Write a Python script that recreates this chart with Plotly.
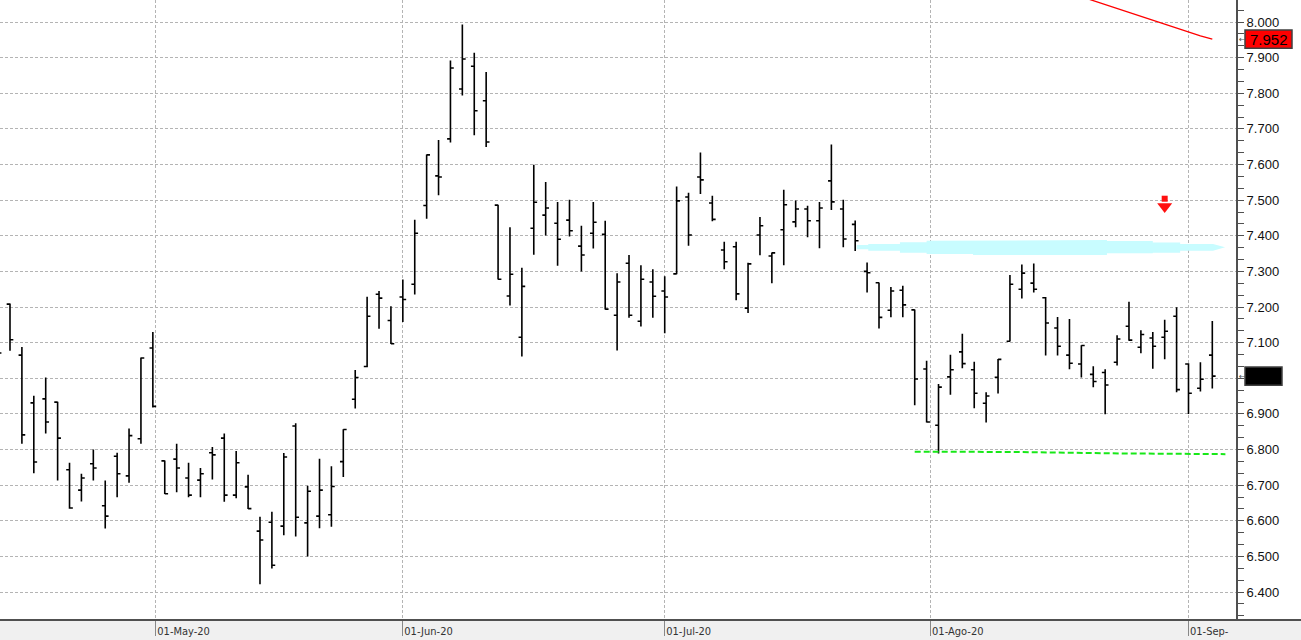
import numpy as np
import pandas as pd
import plotly.graph_objects as go

# ---------------- data ----------------
dates = pd.bdate_range("2020-04-13", "2020-09-03")
dates = dates[dates != pd.Timestamp("2020-05-01")]

opens = [7.100,
         7.208, 7.065, 6.931, 6.942, 6.933, 6.743, 6.686, 6.760, 6.642, 6.781,
         6.726, 6.830, 7.085, 6.768, 6.773, 6.720, 6.714, 6.791, 6.832, 6.672,
         6.695, 6.571, 6.596, 6.585, 6.866, 6.594, 6.613, 6.617, 6.766, 6.941,
         7.033, 7.236, 7.162, 7.228, 7.264, 7.485, 7.568, 7.672, 7.812, 7.876,
         7.779, 7.486, 7.231, 7.115, 7.421, 7.458, 7.435, 7.444, 7.371, 7.407,
         7.404, 7.177, 7.323, 7.160, 7.270, 7.245, 7.293, 7.509, 7.565, 7.492,
         7.360, 7.369, 7.197, 7.402, 7.343, 7.417, 7.439, 7.475, 7.442, 7.554,
         7.475, 7.432, 7.300, 7.268, 7.191, 7.247, 7.192, 7.026, 6.868, 7.004,
         7.074, 7.024, 6.930, 7.003, 7.104, 7.250, 7.267, 7.226, 7.141, 7.065,
         7.040, 7.011, 7.016, 7.045, 7.146, 7.087, 7.113, 7.115, 7.174, 7.040,
         6.972, 7.065]
highs = [7.120,
         7.210, 7.088, 6.951, 7.002, 6.934, 6.763, 6.732, 6.800, 6.713, 6.791,
         6.859, 7.058, 7.130, 6.769, 6.816, 6.763, 6.748, 6.807, 6.845, 6.796,
         6.729, 6.611, 6.625, 6.790, 6.874, 6.698, 6.774, 6.753, 6.857, 7.023,
         7.229, 7.245, 7.202, 7.277, 7.445, 7.628, 7.669, 7.892, 7.993, 7.914,
         7.860, 7.487, 7.424, 7.310, 7.599, 7.551, 7.495, 7.501, 7.428, 7.495,
         7.442, 7.295, 7.346, 7.317, 7.306, 7.286, 7.538, 7.521, 7.634, 7.512,
         7.383, 7.383, 7.324, 7.453, 7.353, 7.529, 7.499, 7.484, 7.495, 7.656,
         7.501, 7.443, 7.325, 7.269, 7.256, 7.260, 7.193, 7.049, 6.984, 7.066,
         7.125, 7.046, 6.961, 7.054, 7.290, 7.319, 7.322, 7.228, 7.172, 7.166,
         7.093, 7.034, 7.025, 7.121, 7.215, 7.135, 7.130, 7.164, 7.199, 7.042,
         7.045, 7.161]
lows = [7.050,
        7.077, 6.816, 6.733, 6.845, 6.713, 6.634, 6.654, 6.713, 6.578, 6.666,
        6.707, 6.816, 6.918, 6.675, 6.680, 6.666, 6.666, 6.716, 6.653, 6.663,
        6.633, 6.422, 6.466, 6.559, 6.556, 6.500, 6.579, 6.583, 6.723, 6.915,
        7.031, 7.139, 7.096, 7.158, 7.235, 7.448, 7.514, 7.662, 7.794, 7.682,
        7.649, 7.277, 7.204, 7.061, 7.347, 7.401, 7.316, 7.398, 7.300, 7.364,
        7.193, 7.078, 7.170, 7.145, 7.170, 7.126, 7.292, 7.372, 7.517, 7.441,
        7.306, 7.219, 7.183, 7.345, 7.267, 7.317, 7.424, 7.396, 7.365, 7.472,
        7.368, 7.357, 7.241, 7.140, 7.171, 7.171, 6.924, 6.876, 6.789, 6.954,
        7.028, 6.916, 6.876, 6.957, 7.103, 7.224, 7.241, 7.064, 7.064, 7.025,
        7.002, 6.975, 6.899, 7.036, 7.105, 7.070, 7.027, 7.053, 6.961, 6.900,
        6.963, 6.971]
closes = [7.071,
          7.108, 6.841, 6.765, 6.877, 6.832, 6.636, 6.720, 6.748, 6.613, 6.732,
          6.839, 7.057, 6.921, 6.676, 6.748, 6.672, 6.732, 6.785, 6.672, 6.763,
          6.634, 6.546, 6.475, 6.779, 6.610, 6.683, 6.686, 6.696, 6.856, 7.002,
          7.174, 7.225, 7.097, 7.221, 7.407, 7.627, 7.565, 7.871, 7.896, 7.751,
          7.663, 7.278, 7.292, 7.258, 7.494, 7.478, 7.390, 7.414, 7.346, 7.438,
          7.194, 7.270, 7.177, 7.278, 7.230, 7.228, 7.498, 7.402, 7.557, 7.446,
          7.327, 7.237, 7.321, 7.428, 7.352, 7.487, 7.475, 7.442, 7.478, 7.495,
          7.391, 7.386, 7.296, 7.171, 7.245, 7.206, 6.998, 6.877, 6.975, 7.024,
          7.041, 6.958, 6.950, 7.053, 7.264, 7.295, 7.250, 7.155, 7.090, 7.042,
          7.092, 6.991, 6.981, 7.110, 7.107, 7.123, 7.090, 7.132, 6.968, 6.958,
          6.997, 7.006]

# red average line (last 14 bars), ends at 7.952
ma_values = [8.093, 8.082, 8.071, 8.060, 8.049, 8.039, 8.028, 8.017,
             8.006, 7.995, 7.983, 7.971, 7.961, 7.952]
ma_label = "7.952"

# cyan highlight band (step edges in bar units, top/bottom prices)
band_edges = [71.13, 72.1, 74.76, 77.0, 80.9, 92.15, 96.0, 98.3, 101.06]
band_top = [7.374, 7.377, 7.382, 7.386, 7.388, 7.385, 7.381, 7.377]
band_bottom = [7.362, 7.358, 7.352, 7.349, 7.346, 7.351, 7.352, 7.358]
band_tip = (102.07, 7.368)

# green dashed support line
support_x = [76.0, 84.6, 93.4, 102.1]
support_y = [6.794, 6.793, 6.789, 6.787]

# red sell signal arrow
signal_x = [97]
signal_y = [7.49]

month_starts = ["2020-05-01", "2020-06-01", "2020-07-01", "2020-08-01", "2020-09-01"]
month_labels = ["01-May-20", "01-Jun-20", "01-Jul-20", "01-Ago-20", "01-Sep-"]

y_ticks = [6.4, 6.5, 6.6, 6.7, 6.8, 6.9, 7.0, 7.1, 7.2, 7.3, 7.4, 7.5, 7.6, 7.7, 7.8, 7.9, 8.0]

# ---------------- geometry ----------------
W, H = 1301, 640
PLOT_W, PLOT_H = 1236, 620
pos = np.arange(len(dates)) - 1
ma_pos = pos[-len(ma_values):]

ords = np.array([d.toordinal() for d in dates])
tick_pos = np.interp([pd.Timestamp(m).toordinal() for m in month_starts], ords, pos)

x_range = [-0.84, 102.99]
y_range = [6.3214, 8.0618]


def ypaper(v):
    return (v - y_range[0]) / (y_range[1] - y_range[0])


grid_col = "#b4b4b4"
axis_col = "#505050"
last_close = closes[-1]

fig = go.Figure()

# cyan band polygon
bx, by = [], []
for k in range(len(band_top)):
    bx += [band_edges[k], band_edges[k + 1]]
    by += [band_top[k], band_top[k]]
bx.append(band_tip[0]); by.append(band_tip[1])
for k in reversed(range(len(band_bottom))):
    bx += [band_edges[k + 1], band_edges[k]]
    by += [band_bottom[k], band_bottom[k]]
fig.add_trace(go.Scatter(x=bx, y=by, fill="toself", fillcolor="#c8fcff",
                         line=dict(width=0, color="#c8fcff"), mode="lines",
                         hoverinfo="skip", showlegend=False))

fig.add_trace(go.Ohlc(x=pos, open=opens, high=highs, low=lows, close=closes,
                      increasing=dict(line=dict(color="black", width=1.6)),
                      decreasing=dict(line=dict(color="black", width=1.6)),
                      tickwidth=0.28, showlegend=False, hoverinfo="skip"))

fig.add_trace(go.Scatter(x=ma_pos, y=ma_values, mode="lines",
                         line=dict(color="#ff0000", width=1.3),
                         showlegend=False, hoverinfo="skip"))

fig.add_trace(go.Scatter(x=support_x, y=support_y, mode="lines",
                         line=dict(color="#18e818", width=2, dash="6px,3px"),
                         showlegend=False, hoverinfo="skip"))

fig.add_trace(go.Scatter(x=signal_x, y=[v + 0.014 for v in signal_y], mode="markers",
                         marker=dict(symbol="square", size=6, color="#ff1010",
                                     line=dict(width=0)),
                         showlegend=False, hoverinfo="skip"))
fig.add_trace(go.Scatter(x=signal_x, y=[v - 0.008 for v in signal_y], mode="markers",
                         marker=dict(symbol="triangle-down", size=13, color="#ff1010",
                                     line=dict(width=0)),
                         showlegend=False, hoverinfo="skip"))

xr = W / PLOT_W
shapes = [
    dict(type="rect", xref="paper", yref="paper", x0=0, x1=xr,
         y0=-(H - PLOT_H) / PLOT_H, y1=0, fillcolor="#f0f0f0",
         line=dict(width=0), layer="below"),
    dict(type="line", xref="paper", yref="paper", x0=0, x1=xr, y0=0, y1=0,
         line=dict(color=axis_col, width=2)),
]
half = 9.2 / PLOT_H
shapes.append(dict(type="rect", xref="paper", yref="paper",
                   x0=1245 / PLOT_W, x1=1292 / PLOT_W,
                   y0=ypaper(ma_values[-1]) - half, y1=ypaper(ma_values[-1]) + half,
                   fillcolor="#ff0000", line=dict(color="#404040", width=1.5)))
shapes.append(dict(type="rect", xref="paper", yref="paper",
                   x0=1245 / PLOT_W, x1=1282 / PLOT_W,
                   y0=ypaper(last_close) - half, y1=ypaper(last_close) + half,
                   fillcolor="#000000", line=dict(color="#404040", width=1.5)))

annotations = [
    dict(xref="paper", yref="paper", x=1248 / PLOT_W, y=ypaper(ma_values[-1]),
         xanchor="left", yanchor="middle", text=ma_label, showarrow=False,
         font=dict(family="Liberation Sans, Arial, sans-serif", size=15, color="#000")),
    dict(xref="paper", yref="paper", x=1248 / PLOT_W, y=ypaper(last_close),
         xanchor="left", yanchor="middle", text=f"{last_close:.3f}", showarrow=False,
         font=dict(family="Liberation Sans, Arial, sans-serif", size=12, color="#000")),
]
for v in (ma_values[-1], last_close):
    annotations.append(dict(xref="paper", yref="paper", x=1237 / PLOT_W, y=ypaper(v),
                            xanchor="left", yanchor="middle", text="←", showarrow=False,
                            font=dict(family="DejaVu Sans", size=8, color="#555")))

# tick labels hidden under the last-price box in the reference are left blank
y_ticktext = ["" if abs(v - last_close) < 0.02 else f"{v:.3f}" for v in y_ticks]

fig.update_layout(
    width=W, height=H, autosize=False,
    margin=dict(l=0, r=W - PLOT_W, t=0, b=H - PLOT_H, pad=0),
    paper_bgcolor="white", plot_bgcolor="white",
    showlegend=False, shapes=shapes, annotations=annotations,
    xaxis=dict(
        type="linear", range=x_range, rangeslider=dict(visible=False),
        tickmode="array", tickvals=list(tick_pos), ticktext=month_labels,
        showgrid=True, gridcolor=grid_col, griddash="3px,2px", gridwidth=1,
        zeroline=False, showline=False,
        ticks="outside", ticklen=15, tickcolor="#888", tickwidth=1,
        ticklabelposition="outside right", ticklabelstandoff=1, ticklabelshift=1,
        tickfont=dict(family="Liberation Sans Narrow, DejaVu Sans Condensed, Arial Narrow, sans-serif",
                      size=11, color="#333"),
        fixedrange=True,
    ),
    yaxis=dict(
        side="right", range=y_range, tickmode="array", tickvals=y_ticks,
        ticktext=y_ticktext,
        showgrid=True, gridcolor=grid_col, griddash="3px,2px", gridwidth=1,
        zeroline=False, showline=True, linecolor=axis_col, linewidth=2,
        ticks="outside", ticklen=6, tickcolor=axis_col, tickwidth=1,
        minor=dict(tickmode="linear", tick0=6.4, dtick=0.1 / 3, ticks="outside",
                   ticklen=6, tickcolor=axis_col, showgrid=False),
        tickfont=dict(family="Liberation Sans, Arial, sans-serif", size=13, color="#111"),
        fixedrange=True,
    ),
)

fig.write_html("out.html", config={"displayModeBar": False})
